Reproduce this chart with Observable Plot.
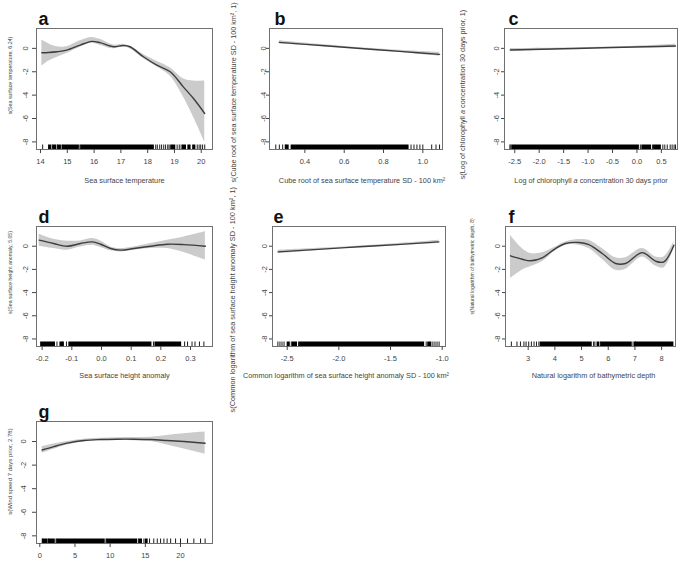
<!DOCTYPE html>
<html><head><meta charset="utf-8">
<script src="https://cdn.jsdelivr.net/npm/d3@7"></script>
<script src="https://cdn.jsdelivr.net/npm/@observablehq/plot@0.6"></script>
<style>
body{margin:0;background:#fff;}
#fig{position:relative;width:685px;height:562px;overflow:hidden;background:#fff;}
#fig svg{position:absolute;overflow:hidden;background:transparent;}
</style></head><body><div id="fig"></div>
<script>
// ---------- shared ----------
const yTicks = [0, -2, -4, -6, -8];
const yDomain = [-8.65, 1.7];

// ---------- panel a ----------
const aX   = [14.05, 14.3, 14.61, 14.98, 15.48, 15.91, 16.22, 16.72, 17.09, 17.34, 17.84, 18.34, 18.84, 19.33, 19.71, 20.13];
const aFit = [-0.37, -0.35, -0.29, -0.15, 0.28, 0.6, 0.49, 0.14, 0.25, 0.14, -0.72, -1.43, -2.0, -3.29, -4.29, -5.57];
const aHi  = [0.71, 0.4, 0.14, 0.14, 0.65, 0.94, 0.77, 0.28, 0.34, 0.2, -0.52, -1.1, -1.66, -2.6, -2.8, -2.8];
const aLo  = [-1.52, -1.1, -0.77, -0.43, 0.1, 0.43, 0.27, -0.04, 0.14, -0.03, -0.86, -1.57, -2.37, -4.14, -5.86, -8.0];
const aRugSpans = [[14.3,14.42],[14.46,14.6],[14.64,14.78],[14.82,15.45],[15.5,18.25],[18.86,19.05],[19.3,19.45],[19.5,19.62],[19.68,19.8]];
const aRugTicks = [14.08, 14.44, 14.62, 14.8, 15.47, 18.3, 18.36, 18.45, 18.52, 18.6, 18.67, 18.75, 18.8, 19.1, 19.18, 19.25, 19.85, 19.92, 19.98, 20.05, 20.13];
const aXTicks = [14, 15, 16, 17, 18, 19, 20];

// ---------- panel b ----------
const bX   = [0.27, 0.5, 0.7, 0.9, 1.085];
const bFit = [0.51, 0.22, -0.03, -0.28, -0.51];
const bHi  = [0.65, 0.30, 0.03, -0.19, -0.35];
const bLo  = [0.37, 0.14, -0.09, -0.37, -0.67];
const bRugSpans = [[0.3,0.32],[0.33,0.93]];
const bRugTicks = [0.252, 0.27, 0.287, 0.304, 0.94, 0.955, 0.97, 0.985, 1.0, 1.045, 1.067, 1.085];
const bXTicks = [0.4, 0.6, 0.8, 1.0];

// ---------- panel c ----------
const cX   = [-2.59, -1.5, -0.5, 0.2, 0.79];
const cFit = [-0.14, -0.03, 0.07, 0.14, 0.2];
const cHi  = [-0.02, 0.03, 0.12, 0.23, 0.36];
const cLo  = [-0.26, -0.09, 0.02, 0.05, 0.04];
const cRugSpans = [[-2.56,0.05],[0.1,0.3],[0.34,0.5]];
const cRugTicks = [-2.6, -2.58, 0.07, 0.32, 0.53, 0.57, 0.62, 0.68, 0.72, 0.76, 0.79];
const cXTicks = [-2.5, -2.0, -1.5, -1.0, -0.5, 0.0, 0.5];

// ---------- panel d ----------
const dX   = [-0.21, -0.161, -0.116, -0.071, -0.031, -0.003, 0.031, 0.064, 0.109, 0.166, 0.222, 0.278, 0.35];
const dFit = [0.52, 0.23, 0.0, 0.23, 0.37, 0.17, -0.2, -0.34, -0.2, 0.0, 0.17, 0.14, 0.0];
const dHi  = [1.03, 0.6, 0.43, 0.46, 0.66, 0.46, -0.06, -0.2, -0.06, 0.23, 0.52, 0.8, 1.24];
const dLo  = [0.0, -0.2, -0.34, -0.06, 0.09, -0.11, -0.4, -0.49, -0.34, -0.2, -0.2, -0.55, -1.2];
const dRugSpans = [[-0.205,-0.155],[-0.14,-0.125],[-0.11,0.17],[0.18,0.27]];
const dRugTicks = [-0.15, -0.132, -0.118, 0.175, 0.28, 0.29, 0.305, 0.315, 0.33, 0.345];
const dXTicks = [-0.2, -0.1, 0.0, 0.1, 0.2, 0.3];

// ---------- panel e ----------
const eX   = [-2.587, -2.2, -1.8, -1.4, -1.032];
const eFit = [-0.49, -0.27, -0.05, 0.16, 0.37];
const eHi  = [-0.35, -0.18, 0.02, 0.25, 0.51];
const eLo  = [-0.63, -0.36, -0.12, 0.07, 0.23];
const eRugSpans = [[-2.5,-2.47],[-2.45,-2.4],[-2.38,-1.17],[-1.14,-1.1]];
const eRugTicks = [-2.59, -2.57, -2.55, -2.53, -2.46, -2.39, -1.155, -1.09, -1.07, -1.05, -1.03];
const eXTicks = [-2.5, -2.0, -1.5, -1.0];

// ---------- panel f ----------
const fX   = [2.337, 2.775, 3.087, 3.524, 4.024, 4.4, 4.9, 5.274, 5.774, 6.274, 6.649, 7.274, 7.774, 8.086, 8.46];
const fFit = [-0.83, -1.12, -1.26, -1.0, -0.2, 0.23, 0.32, 0.14, -0.63, -1.49, -1.49, -0.55, -1.29, -1.35, 0.09];
const fHi  = [0.95, -0.2, -0.63, -0.57, -0.06, 0.37, 0.57, 0.52, -0.2, -1.0, -1.0, -0.2, -0.92, -0.92, 0.37];
const fLo  = [-2.79, -2.07, -1.78, -1.35, -0.4, 0.09, 0.09, -0.2, -1.12, -2.07, -1.98, -0.92, -1.7, -1.87, -0.2];
const fRugSpans = [[3.45,5.4],[5.58,5.68],[5.72,6.9],[6.98,8.46]];
const fRugTicks = [2.37, 2.58, 2.71, 2.84, 2.92, 3.02, 3.12, 3.22, 3.31, 3.40, 5.45, 5.5, 5.7, 6.93, 7.02];
const fXTicks = [3, 4, 5, 6, 7, 8];

// ---------- panel g ----------
const gX   = [0.34, 1.99, 3.9, 6.27, 8.64, 11.0, 13.4, 15.8, 18.1, 20.5, 23.5];
const gFit = [-0.72, -0.43, -0.14, 0.09, 0.17, 0.2, 0.2, 0.17, 0.09, 0.0, -0.14];
const gHi  = [-0.43, -0.2, 0.0, 0.2, 0.27, 0.32, 0.34, 0.37, 0.52, 0.66, 0.8];
const gLo  = [-1.0, -0.66, -0.29, -0.03, 0.06, 0.09, 0.07, 0.0, -0.29, -0.63, -1.06];
const gRugSpans = [[0.4,1.1],[1.2,2.2],[2.4,9.3],[9.5,13.9],[14.1,14.6],[15.0,15.4]];
const gRugTicks = [0.34, 1.15, 2.3, 9.4, 14.0, 14.8, 15.6, 16.2, 16.7, 17.17, 17.64, 18.1, 18.6, 19.3, 20.0, 21.0, 21.9, 22.85, 23.5];
const gXTicks = [0, 5, 10, 15, 20];

// ---------- labels ----------
const letters = ["a", "b", "c", "d", "e", "f", "g"];
// panel g's x label lies below the visible figure in the reference
const xLabels = [
  "Sea surface temperature",
  "Cube root of sea surface temperature SD - 100 km²",
  "Log of chlorophyll a concentration 30 days prior",
  "Sea surface height anomaly",
  "Common logarithm of sea surface height anomaly SD - 100 km²",
  "Natural logarithm of bathymetric depth",
  null
];
const yLabels = [
  "s(Sea surface temperature, 6.24)",
  "s(Cube root of sea surface temperature SD - 100 km², 1)",
  "s(Log of chlorophyll a concentration 30 days prior, 1)",
  "s(Sea surface height anomaly, 5.05)",
  "s(Common logarithm of sea surface height anomaly SD - 100 km², 1)",
  "s(Natural logarithm of bathymetric depth, 8)",
  "s(Wind speed 7 days prior, 2.78)"
];

// ---------- layout (pixels) ----------
const FONT = "'Liberation Sans', Arial, sans-serif";
const f1 = d => String(d);
const f2 = d => d.toFixed(1);
const panels = [
  {i:0, x:aX, fit:aFit, hi:aHi, lo:aLo, spans:aRugSpans, ticks:aRugTicks, xt:aXTicks, fmt:f1, dom:[13.85,20.42],
   frame:[36,212,28,149], box:[0,0,224,192], ylab:[10,75,"middle"], ylabSize:5.3, ytx:-11, yts:4, ldx:2, xdx:0},
  {i:1, x:bX, fit:bFit, hi:bHi, lo:bLo, spans:bRugSpans, ticks:bRugTicks, xt:bXTicks, fmt:f2, dom:[0.22,1.10],
   frame:[269,442,28,149], box:[224,0,233,192], ylab:[233,92,"middle"], ylabSize:7.2, ytx:-6, yts:3, ldx:5, xdx:6},
  {i:2, x:cX, fit:cFit, hi:cHi, lo:cLo, spans:cRugSpans, ticks:cRugTicks, xt:cXTicks, fmt:f2, dom:[-2.71,0.83],
   frame:[504,677,28,149], box:[457,0,228,192], ylab:[462,94,"middle"], ylabSize:7.3, ytx:-8, yts:3, ldx:4, xdx:0},
  {i:3, x:dX, fit:dFit, hi:dHi, lo:dLo, spans:dRugSpans, ticks:dRugTicks, xt:dXTicks, fmt:f2, dom:[-0.219,0.374],
   frame:[36,212,226,346], box:[0,174,224,244], ylab:[10,272,"middle"], ylabSize:5.2, ytx:-11, yts:4, ldx:2, xdx:0},
  {i:4, x:eX, fit:eFit, hi:eHi, lo:eLo, spans:eRugSpans, ticks:eRugTicks, xt:eXTicks, fmt:f2, dom:[-2.642,-0.968],
   frame:[272,445,226,346], box:[224,174,233,244], ylab:[232,412,"start"], ylabSize:7.4, ytx:-8, yts:3, ldx:1, xdx:-13},
  {i:5, x:fX, fit:fFit, hi:fHi, lo:fLo, spans:fRugSpans, ticks:fRugTicks, xt:fXTicks, fmt:f1, dom:[2.15,8.52],
   frame:[505,675,226,346], box:[457,174,228,244], ylab:[472,266,"middle"], ylabSize:5.0, ytx:-8, yts:3, ldx:3, xdx:3},
  {i:6, x:gX, fit:gFit, hi:gHi, lo:gLo, spans:gRugSpans, ticks:gRugTicks, xt:gXTicks, fmt:f1, dom:[-0.47,24.55],
   frame:[36,212,421,543], box:[0,380,224,182], ylab:[10,471,"middle"], ylabSize:6.0, ytx:-13, yts:4, ldx:2, xdx:0}
];

const fig = document.getElementById("fig");
for (const p of panels) {
  const [fx0, fx1, fy0, fy1] = p.frame;
  const [sx, sy, sw, sh] = p.box;
  const rows = p.x.map((x, k) => ({x, y: p.fit[k], lo: p.lo[k], hi: p.hi[k]}));
  const rugInset = (fy1 - fy0) - 4.5;
  const ylabDx = p.ylab[0] - fx0;
  const ylabDy = p.ylab[1] - (fy0 + fy1) / 2;
  const marks = [
    Plot.areaY(rows, {x: "x", y1: "lo", y2: "hi", fill: "#cbcbcb", curve: "catmull-rom"}),
    Plot.lineY(rows, {x: "x", y: "y", stroke: "#3d3d3d", strokeWidth: 1.4, curve: "catmull-rom"}),
    Plot.rect(p.spans, {x1: d => d[0], x2: d => d[1], insetTop: rugInset, fill: "#000"}),
    Plot.ruleX(p.ticks, {x: d => d, insetTop: rugInset, stroke: "#000", strokeWidth: 0.9}),
    Plot.frame({stroke: "#707070", strokeWidth: 1}),
    Plot.axisX({ticks: p.xt, tickFormat: p.fmt, tickSize: 4, tickPadding: 5, fontSize: 7.5, label: null, color: "#444"}),
    Plot.axisY({ticks: yTicks, tickSize: p.yts, tickFormat: () => "", label: null, color: "#444"}),
    Plot.text(yTicks, {y: d => d, text: f1, frameAnchor: "left", rotate: -90, dx: p.ytx, fontSize: 7.5,
      textAnchor: "middle", lineAnchor: "middle", fill: "#444"}),
    Plot.text([letters[p.i]], {text: d => d, frameAnchor: "top-left", dx: p.ldx, dy: -4, fontSize: 18,
      fontWeight: "bold", textAnchor: "start", lineAnchor: "bottom", fill: "#111"}),
    Plot.text([yLabels[p.i]], {text: d => d, frameAnchor: "left", rotate: -90, dx: ylabDx, dy: ylabDy,
      fontSize: p.ylabSize, textAnchor: p.ylab[2], lineAnchor: "middle", fill: "#444"})
  ];
  if (xLabels[p.i]) {
    marks.push(Plot.text([xLabels[p.i]], {text: d => d, frameAnchor: "bottom", dx: p.xdx, dy: p.i < 3 ? 31 : 29,
      fontSize: 7.3, lineAnchor: "middle", fill: "#444"}));
  }
  const chart = Plot.plot({
    width: sw, height: sh,
    marginLeft: fx0 - sx, marginRight: sx + sw - fx1,
    marginTop: fy0 - sy, marginBottom: sy + sh - fy1,
    style: {fontFamily: FONT, background: "transparent", overflow: "hidden", color: "#333"},
    x: {domain: p.dom},
    y: {domain: yDomain},
    marks
  });
  chart.style.left = sx + "px";
  chart.style.top = sy + "px";
  // italic "a" in "chlorophyll a"
  chart.querySelectorAll("text").forEach(t => {
    const s = t.textContent;
    const key = "chlorophyll a ";
    if (s.includes(key) && t.children.length === 0) {
      const [pre, post] = s.split(key);
      t.textContent = "";
      const ns = "http://www.w3.org/2000/svg";
      const t1 = document.createElementNS(ns, "tspan"); t1.textContent = pre + "chlorophyll ";
      const t2 = document.createElementNS(ns, "tspan"); t2.textContent = "a"; t2.setAttribute("font-style", "italic");
      const t3 = document.createElementNS(ns, "tspan"); t3.textContent = " " + post;
      t.append(t1, t2, t3);
    }
  });
  fig.appendChild(chart);
}
</script></body></html>
